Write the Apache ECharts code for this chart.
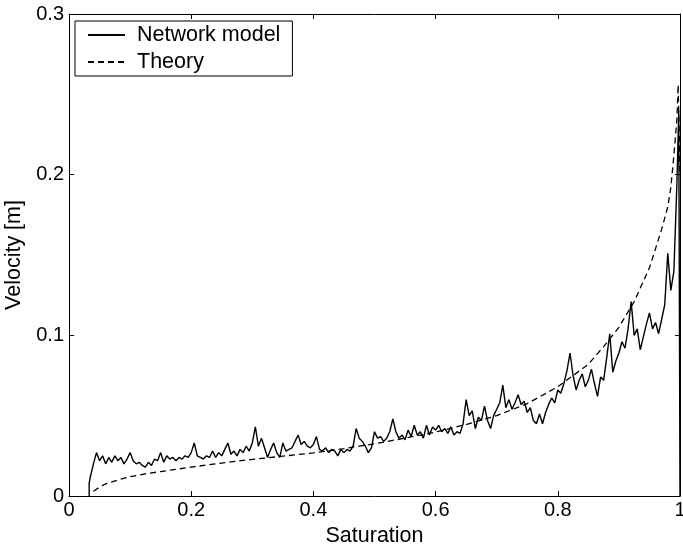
<!DOCTYPE html>
<html>
<head>
<meta charset="utf-8">
<script src="https://cdn.jsdelivr.net/npm/echarts@6/dist/echarts.min.js"></script>
<style>html,body{margin:0;padding:0;background:#fff}#c{width:683px;height:553px}</style>
</head>
<body>
<div id="c"></div>
<script>
// ---- data ----
const netSat = [0.033,0.033,0.035,0.040,0.045,0.050,0.055,0.060,0.065,0.070,0.075,0.080,0.085,0.090,0.095,0.100,0.105,0.110,0.115,0.120,0.125,0.130,0.135,0.140,0.145,0.150,0.155,0.160,0.165,0.170,0.175,0.180,0.185,0.190,0.195,0.200,0.205,0.210,0.215,0.220,0.225,0.230,0.235,0.240,0.245,0.250,0.255,0.260,0.265,0.270,0.275,0.280,0.285,0.290,0.295,0.300,0.305,0.310,0.315,0.320,0.325,0.330,0.335,0.340,0.345,0.350,0.355,0.360,0.365,0.370,0.375,0.380,0.385,0.390,0.395,0.400,0.405,0.410,0.415,0.420,0.425,0.430,0.435,0.440,0.445,0.450,0.455,0.460,0.465,0.470,0.475,0.480,0.485,0.490,0.495,0.500,0.505,0.510,0.515,0.520,0.525,0.530,0.535,0.540,0.545,0.550,0.555,0.560,0.565,0.570,0.575,0.580,0.585,0.590,0.595,0.600,0.605,0.610,0.615,0.620,0.625,0.630,0.635,0.640,0.645,0.650,0.655,0.660,0.665,0.670,0.675,0.680,0.685,0.690,0.695,0.700,0.705,0.710,0.715,0.720,0.725,0.730,0.735,0.740,0.745,0.750,0.755,0.760,0.765,0.770,0.775,0.780,0.785,0.790,0.795,0.800,0.805,0.810,0.815,0.820,0.825,0.830,0.835,0.840,0.845,0.850,0.855,0.860,0.865,0.870,0.875,0.880,0.885,0.890,0.895,0.900,0.905,0.910,0.915,0.920,0.925,0.930,0.935,0.940,0.945,0.950,0.955,0.960,0.965,0.970,0.975,0.980,0.985,0.990,0.995,0.998,1.000];
const netVel = [0.000,0.008,0.012,0.020,0.027,0.022,0.025,0.020,0.024,0.021,0.025,0.022,0.024,0.020,0.023,0.027,0.022,0.020,0.021,0.019,0.018,0.021,0.019,0.023,0.022,0.027,0.021,0.025,0.023,0.024,0.022,0.024,0.023,0.025,0.024,0.027,0.033,0.025,0.024,0.023,0.025,0.024,0.028,0.024,0.027,0.025,0.029,0.033,0.026,0.028,0.025,0.029,0.027,0.031,0.028,0.033,0.043,0.031,0.036,0.030,0.024,0.029,0.033,0.027,0.024,0.033,0.028,0.029,0.030,0.034,0.038,0.032,0.034,0.031,0.030,0.032,0.037,0.029,0.028,0.030,0.027,0.029,0.028,0.025,0.029,0.027,0.029,0.028,0.031,0.042,0.036,0.034,0.031,0.027,0.030,0.040,0.036,0.037,0.034,0.036,0.040,0.048,0.040,0.036,0.038,0.035,0.041,0.037,0.044,0.038,0.040,0.036,0.044,0.038,0.043,0.041,0.044,0.040,0.042,0.039,0.043,0.038,0.040,0.039,0.045,0.060,0.050,0.053,0.042,0.049,0.047,0.056,0.047,0.042,0.050,0.054,0.058,0.069,0.055,0.060,0.054,0.058,0.063,0.057,0.059,0.052,0.055,0.047,0.045,0.051,0.045,0.052,0.057,0.061,0.058,0.066,0.064,0.070,0.078,0.089,0.075,0.066,0.072,0.076,0.068,0.072,0.079,0.070,0.062,0.074,0.072,0.086,0.101,0.077,0.084,0.089,0.096,0.092,0.104,0.121,0.100,0.104,0.091,0.099,0.107,0.114,0.104,0.108,0.101,0.110,0.119,0.151,0.128,0.140,0.195,0.240,0.000];

const theorySat = [0.040,0.050,0.060,0.080,0.100,0.125,0.150,0.175,0.200,0.250,0.300,0.350,0.400,0.450,0.500,0.550,0.600,0.650,0.700,0.750,0.800,0.850,0.875,0.900,0.925,0.950,0.960,0.970,0.980,0.985,0.990,0.995,0.997,1.000];
const theoryVel = [0.003,0.0055,0.0075,0.0100,0.0120,0.0138,0.0152,0.0166,0.0180,0.0205,0.0228,0.0248,0.0268,0.0295,0.0325,0.0360,0.0398,0.0445,0.0500,0.0575,0.0680,0.0820,0.0930,0.1050,0.1210,0.1420,0.1540,0.1660,0.1800,0.1920,0.2120,0.2350,0.2560,0.2000];

const xTicks = [0, 0.2, 0.4, 0.6, 0.8, 1];
const yTicks = [0, 0.1, 0.2, 0.3];
const seriesNames = ['Network model', 'Theory'];
const xName = 'Saturation';
const yName = 'Velocity [m]';

// ---- chart ----
const zip = (a, b) => a.map((v, i) => [v, b[i]]);
const FONT = 'Liberation Sans, Arial, Helvetica, sans-serif';
const chart = echarts.init(document.getElementById('c'), null, {renderer: 'canvas'});

const axisCommon = {
  type: 'value',
  axisLine: {show: true, onZero: false, lineStyle: {color: '#000', width: 1}},
  axisTick: {show: true, inside: true, length: 5, lineStyle: {color: '#000', width: 1}},
  splitLine: {show: false},
  axisLabel: {color: '#000', fontSize: 20, fontFamily: FONT}
};

chart.setOption({
  animation: false,
  backgroundColor: '#fff',
  grid: {left: 69, right: 3, top: 14, bottom: 57, containLabel: false, outerBoundsMode: 'none'},
  legend: {
    left: 75, top: 21,
    orient: 'vertical',
    data: seriesNames,
    backgroundColor: '#fff',
    borderColor: '#000', borderWidth: 1,
    padding: [3, 12, 3, 12],
    itemWidth: 37, itemHeight: 18, itemGap: 5,
    itemStyle: {opacity: 0, borderWidth: 0},
    textStyle: {color: '#000', fontSize: 21.5, fontFamily: FONT, padding: [0, 0, 0, 7]},
    selectedMode: false
  },
  xAxis: [
    Object.assign({}, axisCommon, {
      position: 'bottom', min: xTicks[0], max: xTicks[xTicks.length - 1], interval: 0.2,
      name: xName, nameLocation: 'middle', nameGap: 28,
      nameTextStyle: {color: '#000', fontSize: 21.5, fontFamily: FONT},
      axisLabel: Object.assign({}, axisCommon.axisLabel, {margin: 4})
    }),
    Object.assign({}, axisCommon, {
      position: 'top', min: xTicks[0], max: xTicks[xTicks.length - 1], interval: 0.2,
      axisLabel: {show: false}
    })
  ],
  yAxis: [
    Object.assign({}, axisCommon, {
      position: 'left', min: yTicks[0], max: yTicks[yTicks.length - 1], interval: 0.1,
      name: yName, nameLocation: 'middle', nameGap: 37, nameRotate: 90,
      nameTextStyle: {color: '#000', fontSize: 21.5, fontFamily: FONT},
      axisLabel: Object.assign({}, axisCommon.axisLabel, {margin: 5})
    }),
    Object.assign({}, axisCommon, {
      position: 'right', min: yTicks[0], max: yTicks[yTicks.length - 1], interval: 0.1,
      axisLabel: {show: false}
    })
  ],
  series: [
    {
      name: seriesNames[0], type: 'line', xAxisIndex: 0, yAxisIndex: 0,
      data: zip(netSat, netVel), symbol: 'none', showSymbol: false,
      color: '#000', lineStyle: {color: '#000', width: 1.4}, z: 3
    },
    {
      name: seriesNames[1], type: 'line', xAxisIndex: 0, yAxisIndex: 0,
      data: zip(theorySat, theoryVel), symbol: 'none', showSymbol: false,
      color: '#000', lineStyle: {color: '#000', width: 1.3, type: [6, 4]}, z: 2
    }
  ]
});
</script>
</body>
</html>
